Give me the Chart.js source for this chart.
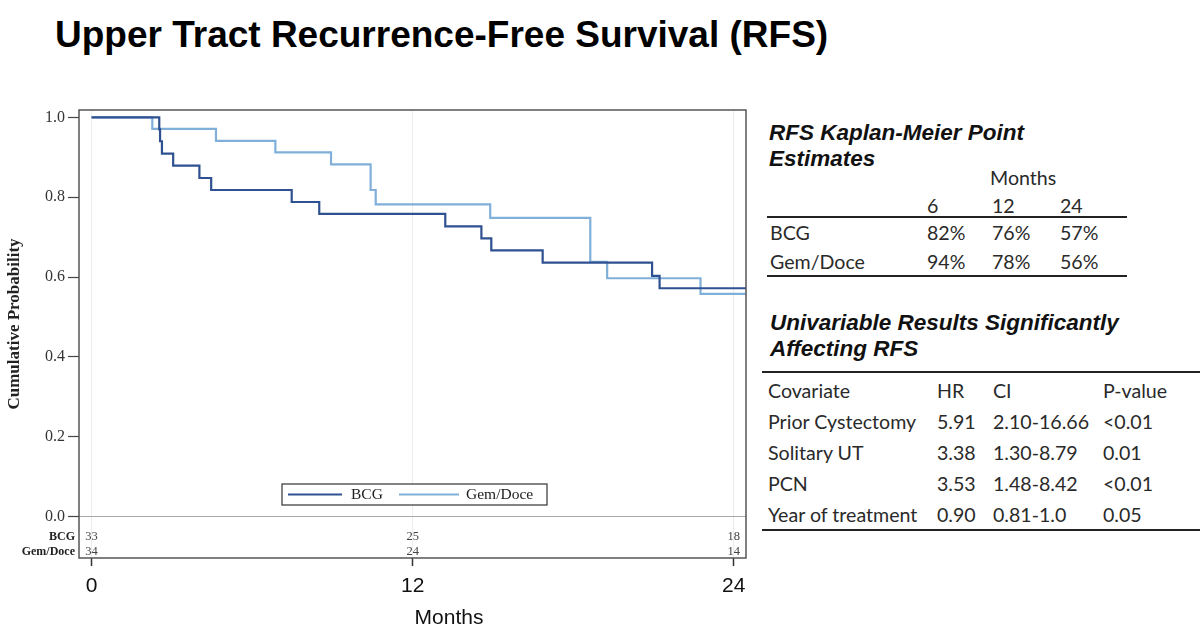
<!DOCTYPE html>
<html>
<head>
<meta charset="utf-8">
<script src="https://cdn.jsdelivr.net/npm/chart.js@4"></script>
<style>
  body { margin: 0; background: #fff; }
  #page { position: relative; width: 1200px; height: 639px; overflow: hidden; }
  #title { position: absolute; left: 55px; top: 16px; font: bold 37px "Liberation Sans", Arial, sans-serif; line-height: 37px; color: #000; white-space: nowrap; }
  #km { position: absolute; left: 0; top: 95px; }
  .t { position: absolute; font-family: Lato, "Open Sans", sans-serif; font-size: 19.6px; line-height: 24px; color: #2a2a2a; white-space: nowrap; }
  .h { position: absolute; font: italic bold 22.5px "Liberation Sans", Arial, sans-serif; line-height: 26.5px; color: #111; }
  .rule { position: absolute; height: 2px; background: #222; }
</style>
</head>
<body>
<div id="page">
  <div id="title">Upper Tract Recurrence-Free Survival (RFS)</div>
  <canvas id="km" width="760" height="544"></canvas>
</div>
<script>
// KM curves, months and survival
const bcgMonths = [0, 2.53, 2.56, 2.63, 3.05, 4.03, 4.47, 7.48, 8.51, 13.22, 14.57, 14.94, 16.86, 20.95, 21.23, 24.46];
const bcgSurv   = [1, 0.97, 0.94, 0.909, 0.879, 0.848, 0.818, 0.788, 0.758, 0.727, 0.697, 0.667, 0.636, 0.603, 0.572, 0.572];
const gemMonths = [0, 2.27, 4.65, 6.87, 8.95, 10.43, 10.62, 14.9, 18.64, 19.27, 22.76, 24.46];
const gemSurv   = [1, 0.971, 0.941, 0.912, 0.882, 0.818, 0.782, 0.748, 0.638, 0.597, 0.558, 0.558];

const xTicks = [0, 12, 24];
const yTicks = [0, 0.2, 0.4, 0.6, 0.8, 1.0];

// numbers at risk
const riskMonths = [0, 12, 24];
const bcgRisk = [33, 25, 18];
const gemRisk = [34, 24, 14];

// side tables
const kmCols = ['6', '12', '24'];
const kmBcg = ['82%', '76%', '57%'];
const kmGem = ['94%', '78%', '56%'];
const uniHead = ['Covariate', 'HR', 'CI', 'P-value'];
const covariates = ['Prior Cystectomy', 'Solitary UT', 'PCN', 'Year of treatment'];
const hr = ['5.91', '3.38', '3.53', '0.90'];
const ci = ['2.10-16.66', '1.30-8.79', '1.48-8.42', '0.81-1.0'];
const pval = ['<0.01', '0.01', '<0.01', '0.05'];

const BCG_COLOR = '#2f5191';
const GEM_COLOR = '#80b0da';
const SERIF = '"Liberation Serif", "Times New Roman", serif';

const page = document.getElementById('page');
function txt(cls, s, left, cy, lh) {
  let d = document.createElement('div');
  d.className = cls;
  d.textContent = s;
  d.style.left = left + 'px';
  d.style.top = (cy - lh / 2) + 'px';
  page.appendChild(d);
  return d;
}
function rule(left, top, width) {
  let d = document.createElement('div');
  d.className = 'rule';
  d.style.left = left + 'px';
  d.style.top = (top - 1) + 'px';
  d.style.width = width + 'px';
  page.appendChild(d);
}

// table 1
let h1 = txt('h', 'RFS Kaplan-Meier Point Estimates', 769, 146, 53);
h1.style.width = '300px';
h1.style.whiteSpace = 'normal';
txt('t', 'Months', 990, 178, 24);
const kmX = [927, 992, 1060];
kmCols.forEach((c, i) => txt('t', c, kmX[i], 206, 24));
rule(767, 217, 360);
txt('t', 'BCG', 770, 232.5, 24);
txt('t', 'Gem/Doce', 770, 261.5, 24);
kmBcg.forEach((c, i) => txt('t', c, kmX[i], 232.5, 24));
kmGem.forEach((c, i) => txt('t', c, kmX[i], 261.5, 24));
rule(767, 276, 360);

// table 2
let h2 = txt('h', 'Univariable Results Significantly Affecting RFS', 770, 336, 53);
h2.style.width = '380px';
h2.style.whiteSpace = 'normal';
rule(762, 372, 438);
const uniX = [768, 937, 993, 1103];
const rowY = [421.5, 452.5, 483.5, 515];
uniHead.forEach((c, i) => txt('t', c, uniX[i], 390.5, 24));
covariates.forEach((c, r) => {
  [c, hr[r], ci[r], pval[r]].forEach((v, i) => txt('t', v, uniX[i], rowY[r], 24));
});
rule(762, 529.5, 438);

function pts(xs, ys) {
  return xs.map((x, i) => ({x: x, y: ys[i]}));
}

const extras = {
  id: 'extras',
  afterDraw(chart) {
    const ctx = chart.ctx;
    const a = chart.chartArea;
    const xs = chart.scales.x;
    ctx.save();

    // frame round plot and at-risk rows
    ctx.strokeStyle = '#555';
    ctx.lineWidth = 1.5;
    ctx.strokeRect(a.left, a.top, a.right - a.left, a.bottom - a.top);

    // at-risk table
    ctx.textBaseline = 'middle';
    ctx.font = 'bold 12px ' + SERIF;
    ctx.fillStyle = '#222';
    ctx.textAlign = 'right';
    ctx.fillText('BCG', 75, 442);
    ctx.fillText('Gem/Doce', 75, 457);
    ctx.font = '12.5px ' + SERIF;
    ctx.fillStyle = '#444';
    ctx.textAlign = 'center';
    riskMonths.forEach((m, i) => {
      let px = xs.getPixelForValue(m);
      ctx.fillText(String(bcgRisk[i]), px, 442);
      ctx.fillText(String(gemRisk[i]), px, 457);
    });

    // legend box
    ctx.fillStyle = '#fff';
    ctx.fillRect(282, 389, 265, 21);
    ctx.strokeStyle = '#333';
    ctx.lineWidth = 1.2;
    ctx.strokeRect(282, 389, 265, 21);
    ctx.lineWidth = 2;
    ctx.strokeStyle = BCG_COLOR;
    ctx.beginPath(); ctx.moveTo(288, 399.5); ctx.lineTo(342, 399.5); ctx.stroke();
    ctx.strokeStyle = GEM_COLOR;
    ctx.beginPath(); ctx.moveTo(399, 399.5); ctx.lineTo(459, 399.5); ctx.stroke();
    ctx.font = '15.5px ' + SERIF;
    ctx.fillStyle = '#222';
    ctx.textAlign = 'left';
    ctx.fillText(chart.data.datasets[0].label, 351, 400);
    ctx.fillText(chart.data.datasets[1].label, 466, 400);

    // axis titles
    ctx.font = '21px "Liberation Sans", Arial, sans-serif';
    ctx.fillStyle = '#111';
    ctx.textAlign = 'center';
    ctx.fillText('Months', 449, 523);
    ctx.translate(15, 229);
    ctx.rotate(-Math.PI / 2);
    ctx.font = 'bold 17px ' + SERIF;
    ctx.fillStyle = '#222';
    ctx.fillText('Cumulative Probability', 0, 0);
    ctx.restore();
  }
};

new Chart(document.getElementById('km'), {
  type: 'line',
  data: {
    datasets: [{
      label: 'BCG',
      data: pts(bcgMonths, bcgSurv),
      borderColor: BCG_COLOR,
      borderWidth: 2.2,
      stepped: 'before',
      pointRadius: 0,
      fill: false
    }, {
      label: 'Gem/Doce',
      data: pts(gemMonths, gemSurv),
      borderColor: GEM_COLOR,
      borderWidth: 2.2,
      stepped: 'before',
      pointRadius: 0,
      fill: false
    }]
  },
  options: {
    responsive: false,
    animation: false,
    layout: { padding: { top: 15, right: 14, left: 0, bottom: 0 } },
    plugins: { legend: { display: false }, tooltip: { enabled: false } },
    scales: {
      x: {
        type: 'linear',
        min: -0.47,
        max: 24.46,
        afterBuildTicks: s => { s.ticks = xTicks.map(v => ({value: v})); },
        afterFit: s => { s.height = 81; },
        border: { display: false },
        grid: { color: '#ececec', drawTicks: true, tickLength: 8, tickColor: '#333', tickWidth: 1.5 },
        ticks: {
          font: { family: '"Liberation Sans", Arial, sans-serif', size: 21 },
          color: '#111', padding: 8, maxRotation: 0, autoSkip: false,
          callback: v => String(v)
        }
      },
      y: {
        min: -0.1034,
        max: 1.0183,
        afterBuildTicks: s => { s.ticks = yTicks.map(v => ({value: v})); },
        afterFit: s => { s.width = 79; },
        border: { display: false },
        grid: {
          color: c => (c.tick && c.tick.value === 0) ? '#a8a8a8' : 'rgba(0,0,0,0)',
          drawTicks: true, tickLength: 11, tickColor: '#444', tickWidth: 1.2
        },
        ticks: {
          font: { family: SERIF, size: 16 },
          color: '#333', padding: 3,
          callback: v => v.toFixed(1)
        }
      }
    }
  },
  plugins: [extras]
});
</script>
</body>
</html>
